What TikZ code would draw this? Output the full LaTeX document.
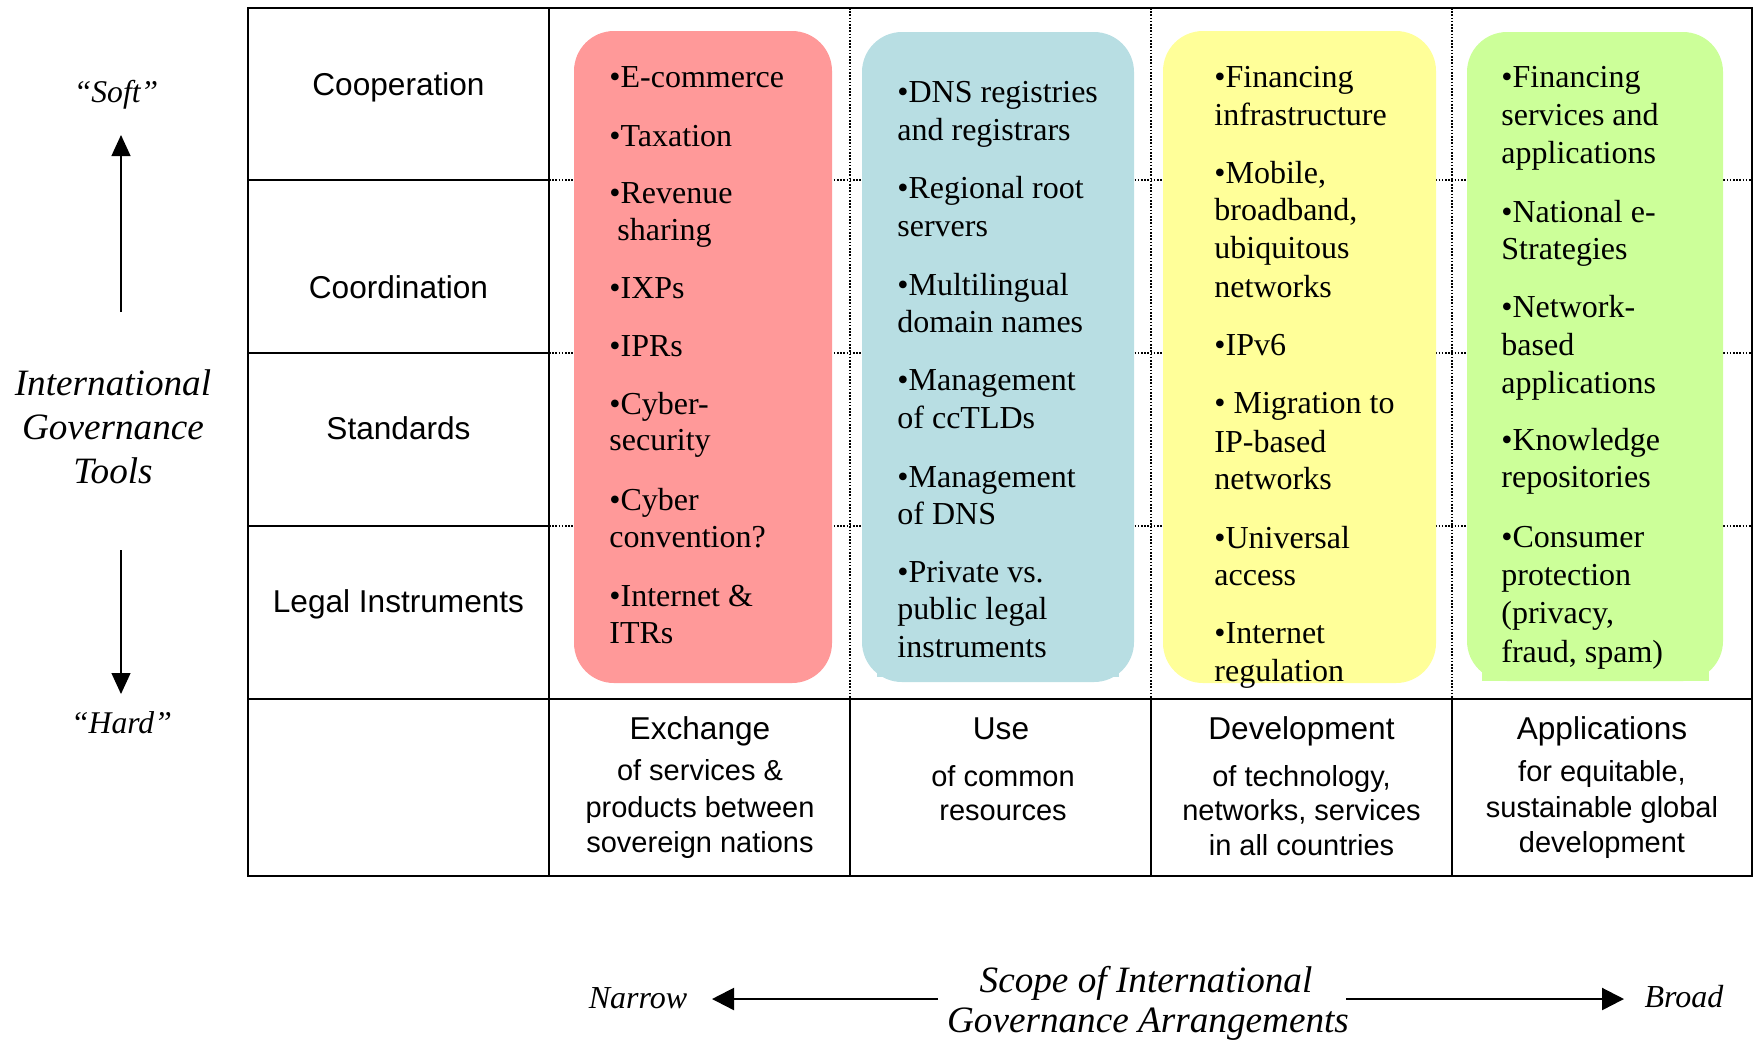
\documentclass[tikz,border=0pt]{standalone}
\usepackage{fontspec}
\setmainfont{Liberation Serif}
\newfontfamily\arialfont{Liberation Sans}
\usetikzlibrary{arrows.meta}
\definecolor{boxred}{RGB}{255,153,153}
\definecolor{boxblue}{RGB}{184,222,227}
\definecolor{boxyellow}{RGB}{255,255,153}
\definecolor{boxgreen}{RGB}{204,255,153}
\begin{document}
\begin{tikzpicture}[x=0.5pt,y=-0.5pt,
  solidline/.style={line width=1.1pt},
  dotline/.style={line width=0.9pt, dash pattern=on 0.8pt off 0.8pt},
  roundbox/.style={rounded corners=20pt},
  itemtext/.style={anchor=base west, inner sep=0pt, font=\fontsize{16}{19}\selectfont},
  rowlabel/.style={anchor=base, inner sep=0pt, font=\arialfont\fontsize{15.8}{19}\selectfont},
  colhead/.style={anchor=base, inner sep=0pt, font=\arialfont\fontsize{15.8}{19}\selectfont},
  colsub/.style={anchor=base, inner sep=0pt, font=\arialfont\fontsize{14.5}{17}\selectfont},
  italabel/.style={anchor=base, inner sep=0pt, font=\itshape\fontsize{18.6}{22}\selectfont},
  smallital/.style={anchor=base, inner sep=0pt, font=\itshape\fontsize{15.8}{19}\selectfont},
  thinarrow/.style={line width=0.6pt, -{Triangle[length=10.5pt, width=9.5pt]}},
  thickarrow/.style={line width=1.1pt, -{Triangle[length=11pt, width=11pt]}}
]
\useasboundingbox (0,0) rectangle (1754,1041);

% dotted grid in upper area
\foreach \yy in {180,353,526} \draw[dotline] (549,\yy) -- (1752,\yy);
\foreach \xx in {850,1151,1452} \draw[dotline] (\xx,8) -- (\xx,699);

% coloured boxes
\fill[boxred, roundbox] (574,31) rectangle (832,683);
\fill[boxblue, roundbox] (862,32) rectangle (1134,682);
\fill[boxblue] (877,600) rectangle (1119,677);
\fill[boxyellow, roundbox] (1163,31) rectangle (1436,683);
\fill[boxgreen, roundbox] (1467,32) rectangle (1723,681);
\fill[boxgreen] (1482,600) rectangle (1709,681);

% solid table lines
\draw[solidline] (248,8) rectangle (1752,876);
\draw[solidline] (549,8) -- (549,876);
\foreach \yy in {180,353,526} \draw[solidline] (248,\yy) -- (549,\yy);
\draw[solidline] (248,699) -- (1752,699);
\foreach \xx in {850,1151,1452} \draw[solidline] (\xx,699) -- (\xx,876);

% row labels
\node[rowlabel] (coop) at (398.5,95) {Cooperation};
\node[rowlabel] (coord) at (398.5,298) {Coordination};
\node[rowlabel] (stand) at (398.5,439) {Standards};
\node[rowlabel] (legal) at (398.5,612) {Legal Instruments};

% red list
\foreach \yy/\xx/\txt [count=\i] in {87/609/{•E-commerce}, 146/609/{•Taxation}, 203/609/{•Revenue}, 240/617/{sharing}, 298/609/{•IXPs}, 356/609/{•IPRs}, 414/609/{•Cyber-}, 450/609/{security}, 510/609/{•Cyber}, 547/609/{convention?}, 606/609/{•Internet \&}, 643/609/{ITRs}}
  \node[itemtext] (red\i) at (\xx,\yy) {\txt};

% blue list
\foreach \yy/\txt [count=\i] in {102/{•DNS registries}, 140/{and registrars}, 198/{•Regional root}, 236/{servers}, 295/{•Multilingual}, 332/{domain names}, 390/{•Management}, 428/{of ccTLDs}, 487/{•Management}, 524/{of DNS}, 582/{•Private vs.}, 619/{public legal}, 657/{instruments}}
  \node[itemtext] (blue\i) at (897,\yy) {\txt};

% yellow list
\foreach \yy/\txt [count=\i] in {87/{•Financing}, 125/{infrastructure}, 183/{•Mobile,}, 220/{broadband,}, 258/{ubiquitous}, 297/{networks}, 355/{•IPv6}, 413/{• Migration to}, 452/{IP-based}, 489/{networks}, 548/{•Universal}, 585/{access}, 643/{•Internet}, 681/{regulation}}
  \node[itemtext] (yel\i) at (1214,\yy) {\txt};

% green list
\foreach \yy/\txt [count=\i] in {87/{•Financing}, 125/{services and}, 163/{applications}, 222/{•National e-}, 259/{Strategies}, 317/{•Network-}, 355/{based}, 393/{applications}, 450/{•Knowledge}, 487/{repositories}, 547/{•Consumer}, 585/{protection}, 623/{(privacy,}, 662/{fraud, spam)}}
  \node[itemtext] (grn\i) at (1501,\yy) {\txt};

% bottom row
\node[colhead] (exch) at (700,739) {Exchange};
\node[colsub] (exch1) at (700,780) {of services \&};
\node[colsub] (exch2) at (700,817) {products between};
\node[colsub] (exch3) at (700,852) {sovereign nations};

\node[colhead] (use) at (1001,739) {Use};
\node[colsub] (use1) at (1003,786) {of common};
\node[colsub] (use2) at (1003,820) {resources};

\node[colhead] (dev) at (1301.5,739) {Development};
\node[colsub] (dev1) at (1301.5,786) {of technology,};
\node[colsub] (dev2) at (1301.5,820) {networks, services};
\node[colsub] (dev3) at (1301.5,855) {in all countries};

\node[colhead] (app) at (1602,739) {Applications};
\node[colsub] (app1) at (1602,781) {for equitable,};
\node[colsub] (app2) at (1602,817) {sustainable global};
\node[colsub] (app3) at (1602,852) {development};

% left side
\node[smallital] (soft) at (116,102) {“Soft”};
\node[smallital] (hard) at (121.5,733) {“Hard”};
\node[italabel] (igt1) at (113,395) {International};
\node[italabel] (igt2) at (113,439) {Governance};
\node[italabel] (igt3) at (113,483) {Tools};
\coordinate (upstart) at (121,312);
\coordinate (uptip) at (121,135);
\coordinate (downstart) at (121,550);
\coordinate (downtip) at (121,694);
\draw[thinarrow] (upstart) -- (uptip);
\draw[thinarrow] (downstart) -- (downtip);

% bottom scope
\node[smallital, font=\itshape\fontsize{16}{19}\selectfont] (narrow) at (638,1008) {Narrow};
\node[smallital, font=\itshape\fontsize{16}{19}\selectfont] (broad) at (1684,1007) {Broad};
\node[italabel] (scope1) at (1146,992) {Scope of International};
\node[italabel] (scope2) at (1148,1032) {Governance Arrangements};
\coordinate (lstart) at (938,999);
\coordinate (ltip) at (712,999);
\coordinate (rstart) at (1346,999);
\coordinate (rtip) at (1624,999);
\draw[thickarrow] (lstart) -- (ltip);
\draw[thickarrow] (rstart) -- (rtip);
\end{tikzpicture}
\end{document}
